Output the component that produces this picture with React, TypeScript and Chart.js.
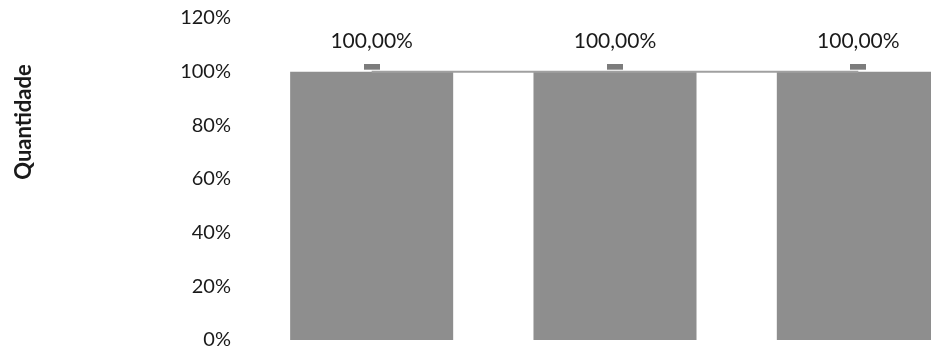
import React, { useEffect, useRef } from "react";
import { Chart, registerables } from "chart.js";

Chart.register(...registerables);

const categories = ["A", "B", "C"];
const barValues = [100, 100, 100];
const lineValues = [100, 100, 100];
const valueLabels = ["100,00%", "100,00%", "100,00%"];
const yTicks = [0, 20, 40, 60, 80, 100, 120];
const yTitle = "Quantidade";

const FONT = "Lato, 'Open Sans', sans-serif";

function makeMarker(): HTMLCanvasElement {
  const c = document.createElement("canvas");
  c.width = 16;
  c.height = 16;
  const ctx = c.getContext("2d")!;
  ctx.fillStyle = "#7c7c7c";
  ctx.fillRect(0, 0, 16, 6);
  return c;
}

const labelPlugin = {
  id: "valueLabels",
  afterDatasetsDraw(chart: any) {
    const ctx = chart.ctx;
    const meta = chart.getDatasetMeta(1);
    ctx.save();
    ctx.fillStyle = "#1a1a1a";
    ctx.font = `21px ${FONT}`;
    ctx.textAlign = "center";
    ctx.textBaseline = "middle";
    meta.data.forEach((pt: any, i: number) => {
      ctx.fillText(valueLabels[i], pt.x, pt.y - 30);
    });
    ctx.restore();
  },
};

const titlePlugin = {
  id: "yTitle",
  afterDraw(chart: any) {
    const ctx = chart.ctx;
    ctx.save();
    ctx.translate(24, 135);
    ctx.rotate(-Math.PI / 2);
    ctx.fillStyle = "#1a1a1a";
    ctx.font = `bold 22px ${FONT}`;
    ctx.textAlign = "center";
    ctx.textBaseline = "middle";
    ctx.fillText(yTitle, 0, 0);
    ctx.restore();
  },
};

export default function App() {
  const ref = useRef<HTMLCanvasElement>(null);
  useEffect(() => {
    if (!ref.current) return;
    const chart = new Chart(ref.current, {
      type: "bar",
      data: {
        labels: categories,
        datasets: [
          {
            type: "bar",
            data: barValues,
            backgroundColor: "#8e8e8e",
            barPercentage: 1,
            categoryPercentage: 0.67,
            order: 2,
          },
          {
            type: "line",
            data: lineValues,
            borderColor: "#a0a0a0",
            borderWidth: 2,
            pointStyle: makeMarker() as any,
            pointRadius: 8,
            order: 1,
          } as any,
        ],
      },
      options: {
        responsive: false,
        animation: false,
        layout: { padding: { top: 7, bottom: 9, right: 9, left: 0 } },
        plugins: { legend: { display: false }, tooltip: { enabled: false } },
        scales: {
          x: {
            display: false,
          },
          y: {
            min: 0,
            max: 120,
            afterFit(scale: any) {
              scale.width = 250;
            },
            afterBuildTicks(scale: any) {
              scale.ticks = yTicks.map((v) => ({ value: v }));
            },
            grid: { display: false, drawTicks: false },
            border: { display: false },
            ticks: {
              padding: 19,
              color: "#1a1a1a",
              font: { family: FONT, size: 20 },
              callback: (v: any) => `${v}%`,
            },
          },
        },
      },
      plugins: [labelPlugin, titlePlugin],
    });
    return () => chart.destroy();
  }, []);
  return (
    <div
      style={{
        position: "fixed",
        left: 0,
        top: 0,
        width: 931,
        height: 349,
        overflow: "hidden",
        background: "#fff",
      }}
    >
      <canvas
        ref={ref}
        width={990}
        height={384}
        style={{ display: "block", marginTop: -13 }}
      />
    </div>
  );
}
